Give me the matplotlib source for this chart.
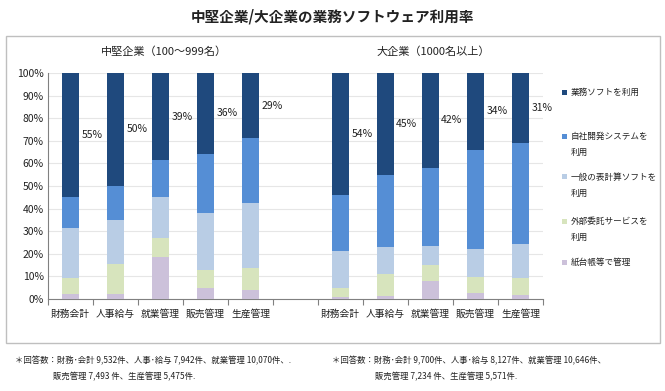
import matplotlib
matplotlib.use("Agg")
import matplotlib.pyplot as plt
from matplotlib.patches import Rectangle
import numpy as np

plt.rcParams['font.family'] = ['Noto Sans CJK JP', 'DejaVu Sans']

categories = ["財務会計", "人事給与", "就業管理", "販売管理", "生産管理"]
series_names = ["紙台帳等で管理", "外部委託サービスを\n利用", "一般の表計算ソフトを\n利用",
                "自社開発システムを\n利用", "業務ソフトを利用"]
colors = ["#ccc1da", "#d7e4bd", "#b9cde5", "#558ed5", "#1f497d"]

# 中堅企業 (bottom -> top)
mid_paper   = [2.0, 2.0, 18.6, 4.7, 4.0]
mid_outsrc  = [7.3, 13.5, 8.6, 8.3, 9.6]
mid_sheet   = [22.2, 19.3, 17.8, 24.9, 29.0]
mid_inhouse = [13.5, 15.2, 16.4, 26.4, 28.6]
mid_soft    = [55.0, 50.0, 38.6, 35.7, 28.8]
mid_labels  = ["55%", "50%", "39%", "36%", "29%"]

# 大企業
lg_paper   = [0.7, 1.2, 8.0, 2.8, 1.8]
lg_outsrc  = [4.0, 10.0, 7.2, 6.8, 7.5]
lg_sheet   = [16.6, 11.6, 8.3, 12.7, 15.1]
lg_inhouse = [24.6, 31.9, 34.6, 43.8, 44.6]
lg_soft    = [54.1, 45.3, 41.9, 33.9, 31.0]
lg_labels  = ["54%", "45%", "42%", "34%", "31%"]

yticks = [0, 10, 20, 30, 40, 50, 60, 70, 80, 90, 100]

W, H = 665, 391
fig = plt.figure(figsize=(W/100, H/100), dpi=100)
fig.patch.set_facecolor("white")

def fx(px):
    return px / W

def fy(py):
    return 1 - py / H

# outer frame
fig.patches.append(Rectangle((fx(6), fy(343)), fx(654), 307/H, transform=fig.transFigure,
                             fill=False, edgecolor="#bfbfbf", linewidth=1.0))

ax = fig.add_axes([fx(48), fy(299), 495/W, 226/H])

mid = np.array([mid_paper, mid_outsrc, mid_sheet, mid_inhouse, mid_soft])
lg = np.array([lg_paper, lg_outsrc, lg_sheet, lg_inhouse, lg_soft])
data = np.concatenate([mid, np.full((5, 1), np.nan), lg], axis=1)
labels_all = mid_labels + [""] + lg_labels
xlabels = categories + [""] + categories
x = np.arange(len(xlabels))
w = 0.38

bottom = np.zeros(len(x))
for i in range(5):
    vals = np.nan_to_num(data[i])
    ax.bar(x, vals, w, bottom=bottom, color=colors[i], edgecolor="none", zorder=3)
    bottom += vals

# labels at middle of top segment
top_vals = np.nan_to_num(data[4])
for xi, tv, lab in zip(x, top_vals, labels_all):
    if lab:
        ax.text(xi + w/2 + 0.05, 100 - tv/2, lab, ha="left", va="center",
                fontsize=7.5, color="#222222")

ax.set_xlim(-0.5, len(x) - 0.5)
ax.set_ylim(0, 100)
ax.set_yticks(yticks)
ax.set_yticklabels([f"{v}%" for v in yticks], fontsize=7.5, color="#222222")
ax.set_xticks(x)
ax.set_xticklabels(xlabels, fontsize=7, color="#222222")
ax.tick_params(axis="x", length=0, pad=7)
ax.tick_params(axis="y", length=0, pad=3)
ax.set_xticks(np.arange(-0.5, len(x), 1.0), minor=True)
ax.tick_params(axis="x", which="minor", length=4, color="#808080", width=0.8)
ax.yaxis.grid(True, color="#e6e6e6", linewidth=0.8, zorder=0)
for s in ["top", "right"]:
    ax.spines[s].set_visible(False)
for s in ["left", "bottom"]:
    ax.spines[s].set_color("#808080")
    ax.spines[s].set_linewidth(0.8)

# manual legend (top to bottom)
leg_y = [92, 136, 177, 221, 262]
for yy, idx in zip(leg_y, range(4, -1, -1)):
    fig.patches.append(Rectangle((fx(562), fy(yy + 2.5)), 5/W, 5/H, transform=fig.transFigure,
                                 facecolor=colors[idx], edgecolor="none"))
    lines = series_names[idx].split("\n")
    for k, ln in enumerate(lines):
        fig.text(fx(571), fy(yy + 16 * k), ln, ha="left", va="center", fontsize=6.2,
                 color="#222222")

# titles
fig.text(fx(332), fy(17), "中堅企業/大企業の業務ソフトウェア利用率", ha="center", va="center",
         fontsize=10.5, fontweight="bold", color="#222222")
fig.text(fx(164), fy(52), "中堅企業（100～999名）", ha="center", va="center", fontsize=8, color="#222222")
fig.text(fx(433), fy(52), "大企業（1000名以上）", ha="center", va="center", fontsize=8, color="#222222")

# footnotes
fs = 6
fig.text(fx(15), fy(361), "＊回答数：財務･会計 9,532件、人事･給与 7,942件、就業管理 10,070件、.",
         ha="left", va="center", fontsize=fs, color="#222222")
fig.text(fx(53), fy(377), "販売管理 7,493 件、生産管理 5,475件.", ha="left", va="center",
         fontsize=fs, color="#222222")
fig.text(fx(332), fy(361), "＊回答数：財務･会計 9,700件、人事･給与 8,127件、就業管理 10,646件、",
         ha="left", va="center", fontsize=fs, color="#222222")
fig.text(fx(375), fy(377), "販売管理 7,234 件、生産管理 5,571件.", ha="left", va="center",
         fontsize=fs, color="#222222")

fig.savefig("out.png", dpi=100, facecolor="white")
